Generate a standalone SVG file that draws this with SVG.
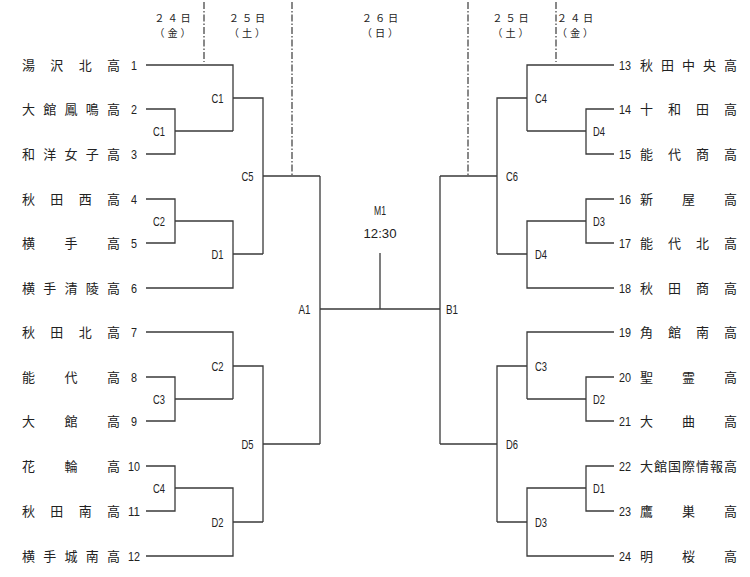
<svg xmlns="http://www.w3.org/2000/svg" width="750" height="577" viewBox="0 0 750 577">
<style>
.ln{stroke:#3a3a3a;stroke-width:1.3;fill:none}
.ds{stroke:#3a3a3a;stroke-width:1.2;fill:none;stroke-dasharray:7 2 1.5 2}
.nm{font-family:"Noto Sans CJK JP","Noto Sans",sans-serif;font-size:13px;fill:#222}
.num{font-family:"Liberation Sans",sans-serif;font-size:13px;fill:#222;text-anchor:middle}
.lb{font-family:"Liberation Sans",sans-serif;font-size:13px;fill:#222;text-anchor:middle}
.hd{font-family:"Noto Sans CJK JP","Noto Sans",sans-serif;font-size:10.2px;letter-spacing:3px;fill:#222;text-anchor:middle}
</style>
<rect width="750" height="577" fill="#fff"/>
<g id="header">
<text class="hd" x="174" y="22">２４日</text><text class="hd" x="174" y="37">（金）</text>
<text class="hd" x="248.5" y="22">２５日</text><text class="hd" x="248.5" y="37">（土）</text>
<text class="hd" x="381.5" y="22">２６日</text><text class="hd" x="381.5" y="37">（日）</text>
<text class="hd" x="512" y="22">２５日</text><text class="hd" x="512" y="37">（土）</text>
<text class="hd" x="576.5" y="22">２４日</text><text class="hd" x="576.5" y="37">（金）</text>
</g>
<g id="connectors">
<path class="ds" d="M204 2V62M292 2V175M468 2V175M556 2V62"/>
<path class="ln" d="M146 65H233V131M146 109H175V154H146M175 131H233M233 98H263V254M263 176H320"/>
<path class="ln" d="M146 199H175V243H146M175 221H233V288H146M233 254H263"/>
<path class="ln" d="M146 332H233V399M146 377H175V421H146M175 399H233M233 366H263V522M263 444H320"/>
<path class="ln" d="M146 466H175V511H146M175 488H233V556H146M233 522H263"/>
<path class="ln" d="M320 176V444M320 309H440M440 176V444M380 253V309"/>
<path class="ln" d="M614 65H527V131M614 109H586V154H614M586 131H527M527 98H497V254M497 176H440"/>
<path class="ln" d="M614 199H586V243H614M586 221H527V288H614M527 254H497"/>
<path class="ln" d="M614 332H527V399M614 377H586V421H614M586 399H527M527 366H497V522M497 444H440"/>
<path class="ln" d="M614 466H586V511H614M586 488H527V556H614M527 522H497"/>
</g>
<g id="match-labels">
<text class="lb" x="159" y="136" textLength="12" lengthAdjust="spacingAndGlyphs">C1</text>
<text class="lb" x="217.5" y="103" textLength="12" lengthAdjust="spacingAndGlyphs">C1</text>
<text class="lb" x="159" y="226" textLength="12" lengthAdjust="spacingAndGlyphs">C2</text>
<text class="lb" x="217.5" y="259" textLength="12" lengthAdjust="spacingAndGlyphs">D1</text>
<text class="lb" x="247.5" y="181" textLength="12" lengthAdjust="spacingAndGlyphs">C5</text>
<text class="lb" x="217.5" y="371" textLength="12" lengthAdjust="spacingAndGlyphs">C2</text>
<text class="lb" x="159" y="404" textLength="12" lengthAdjust="spacingAndGlyphs">C3</text>
<text class="lb" x="159" y="493" textLength="12" lengthAdjust="spacingAndGlyphs">C4</text>
<text class="lb" x="217.5" y="527" textLength="12" lengthAdjust="spacingAndGlyphs">D2</text>
<text class="lb" x="247.5" y="449" textLength="12" lengthAdjust="spacingAndGlyphs">D5</text>
<text class="lb" x="304.5" y="314" textLength="12" lengthAdjust="spacingAndGlyphs">A1</text>
<text class="lb" x="452" y="314" textLength="12" lengthAdjust="spacingAndGlyphs">B1</text>
<text class="lb" x="380" y="215" textLength="12" lengthAdjust="spacingAndGlyphs">M1</text>
<text class="lb" x="380" y="238" textLength="33" lengthAdjust="spacingAndGlyphs">12:30</text>
<text class="lb" x="541" y="103" textLength="12" lengthAdjust="spacingAndGlyphs">C4</text>
<text class="lb" x="599" y="136" textLength="12" lengthAdjust="spacingAndGlyphs">D4</text>
<text class="lb" x="512" y="181" textLength="12" lengthAdjust="spacingAndGlyphs">C6</text>
<text class="lb" x="599" y="226" textLength="12" lengthAdjust="spacingAndGlyphs">D3</text>
<text class="lb" x="541" y="259" textLength="12" lengthAdjust="spacingAndGlyphs">D4</text>
<text class="lb" x="541" y="371" textLength="12" lengthAdjust="spacingAndGlyphs">C3</text>
<text class="lb" x="599" y="404" textLength="12" lengthAdjust="spacingAndGlyphs">D2</text>
<text class="lb" x="512" y="449" textLength="12" lengthAdjust="spacingAndGlyphs">D6</text>
<text class="lb" x="599" y="493" textLength="12" lengthAdjust="spacingAndGlyphs">D1</text>
<text class="lb" x="541" y="527" textLength="12" lengthAdjust="spacingAndGlyphs">D3</text>
</g>
<g id="team-1"><text class="nm" x="22 50.3 78.7 107" y="70">湯沢北高</text><text class="num" x="134" y="70" textLength="6" lengthAdjust="spacingAndGlyphs">1</text></g>
<g id="team-2"><text class="nm" x="22 43.25 64.5 85.75 107" y="114">大館鳳鳴高</text><text class="num" x="134" y="114" textLength="6" lengthAdjust="spacingAndGlyphs">2</text></g>
<g id="team-3"><text class="nm" x="22 43.25 64.5 85.75 107" y="159">和洋女子高</text><text class="num" x="134" y="159" textLength="6" lengthAdjust="spacingAndGlyphs">3</text></g>
<g id="team-4"><text class="nm" x="22 50.3 78.7 107" y="204">秋田西高</text><text class="num" x="134" y="204" textLength="6" lengthAdjust="spacingAndGlyphs">4</text></g>
<g id="team-5"><text class="nm" x="22 64.5 107" y="248">横手高</text><text class="num" x="134" y="248" textLength="6" lengthAdjust="spacingAndGlyphs">5</text></g>
<g id="team-6"><text class="nm" x="22 43.25 64.5 85.75 107" y="293">横手清陵高</text><text class="num" x="134" y="293" textLength="6" lengthAdjust="spacingAndGlyphs">6</text></g>
<g id="team-7"><text class="nm" x="22 50.3 78.7 107" y="337">秋田北高</text><text class="num" x="134" y="337" textLength="6" lengthAdjust="spacingAndGlyphs">7</text></g>
<g id="team-8"><text class="nm" x="22 64.5 107" y="382">能代高</text><text class="num" x="134" y="382" textLength="6" lengthAdjust="spacingAndGlyphs">8</text></g>
<g id="team-9"><text class="nm" x="22 64.5 107" y="426">大館高</text><text class="num" x="134" y="426" textLength="6" lengthAdjust="spacingAndGlyphs">9</text></g>
<g id="team-10"><text class="nm" x="22 64.5 107" y="471">花輪高</text><text class="num" x="134" y="471" textLength="12" lengthAdjust="spacingAndGlyphs">10</text></g>
<g id="team-11"><text class="nm" x="22 50.3 78.7 107" y="516">秋田南高</text><text class="num" x="134" y="516" textLength="12" lengthAdjust="spacingAndGlyphs">11</text></g>
<g id="team-12"><text class="nm" x="22 43.25 64.5 85.75 107" y="561">横手城南高</text><text class="num" x="134" y="561" textLength="12" lengthAdjust="spacingAndGlyphs">12</text></g>
<g id="team-13"><text class="num" x="625" y="70" textLength="12" lengthAdjust="spacingAndGlyphs">13</text><text class="nm" x="640 661 682 703 724" y="70">秋田中央高</text></g>
<g id="team-14"><text class="num" x="625" y="114" textLength="12" lengthAdjust="spacingAndGlyphs">14</text><text class="nm" x="640 668 696 724" y="114">十和田高</text></g>
<g id="team-15"><text class="num" x="625" y="159" textLength="12" lengthAdjust="spacingAndGlyphs">15</text><text class="nm" x="640 668 696 724" y="159">能代商高</text></g>
<g id="team-16"><text class="num" x="625" y="204" textLength="12" lengthAdjust="spacingAndGlyphs">16</text><text class="nm" x="640 682 724" y="204">新屋高</text></g>
<g id="team-17"><text class="num" x="625" y="248" textLength="12" lengthAdjust="spacingAndGlyphs">17</text><text class="nm" x="640 668 696 724" y="248">能代北高</text></g>
<g id="team-18"><text class="num" x="625" y="293" textLength="12" lengthAdjust="spacingAndGlyphs">18</text><text class="nm" x="640 668 696 724" y="293">秋田商高</text></g>
<g id="team-19"><text class="num" x="625" y="337" textLength="12" lengthAdjust="spacingAndGlyphs">19</text><text class="nm" x="640 668 696 724" y="337">角館南高</text></g>
<g id="team-20"><text class="num" x="625" y="382" textLength="12" lengthAdjust="spacingAndGlyphs">20</text><text class="nm" x="640 682 724" y="382">聖霊高</text></g>
<g id="team-21"><text class="num" x="625" y="426" textLength="12" lengthAdjust="spacingAndGlyphs">21</text><text class="nm" x="640 682 724" y="426">大曲高</text></g>
<g id="team-22"><text class="num" x="625" y="471" textLength="12" lengthAdjust="spacingAndGlyphs">22</text><text class="nm" x="640 654 668 682 696 710 724" y="471">大館国際情報高</text></g>
<g id="team-23"><text class="num" x="625" y="516" textLength="12" lengthAdjust="spacingAndGlyphs">23</text><text class="nm" x="640 682 724" y="516">鷹巣高</text></g>
<g id="team-24"><text class="num" x="625" y="561" textLength="12" lengthAdjust="spacingAndGlyphs">24</text><text class="nm" x="640 682 724" y="561">明桜高</text></g>
</svg>
